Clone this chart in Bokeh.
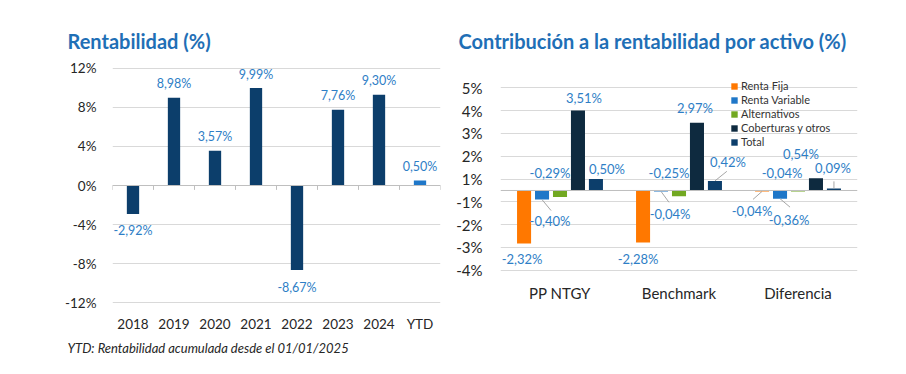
from bokeh.plotting import figure
from bokeh.models import Range1d, FixedTicker, Span, Title, Legend, LegendItem
from bokeh.layouts import row
from bokeh.embed import file_html
from bokeh.resources import INLINE
from bokeh.core.properties import value

# ---------------- data ----------------
years = ["2018", "2019", "2020", "2021", "2022", "2023", "2024", "YTD"]
returns = [-2.92, 8.98, 3.57, 9.99, -8.67, 7.76, 9.30, 0.50]
left_ticks = [-12, -8, -4, 0, 4, 8, 12]

groups = ["PP NTGY", "Benchmark", "Diferencia"]
series = ["Renta Fija", "Renta Variable", "Alternativos", "Coberturas y otros", "Total"]
renta_fija = [-2.32, -2.28, -0.04]
renta_variable = [-0.40, -0.04, -0.36]
alternativos = [-0.29, -0.25, -0.04]
coberturas = [3.51, 2.97, 0.54]
total = [0.50, 0.42, 0.09]
right_ticks = [-3.5, -2.5, -1.5, -0.5, 0.5, 1.5, 2.5, 3.5, 4.5]
right_tick_labels = ["-4%", "-3%", "-2%", "-1%", "1%", "2%", "3%", "4%", "5%"]

# ---------------- style ----------------
FONT = "Lato"
TITLE_C = "#1f6fb6"
LABEL_C = "#2e7ec6"
TEXT_C = "#262626"
GRID_C = "#d9d9d9"
ZERO_C = "#bfbfbf"
NAVY = "#0c3e6b"
YTD_C = "#1f77c8"
series_colors = ["#ff7800", "#1f77c8", "#72a822", "#0e2a3f", "#0c3e6b"]

# label offsets (data units) per series x group
label_dx = [[-0.017, -0.042, -0.084],
            [0.067, 0.076, 0.076],
            [-0.084, -0.084, -0.134],
            [0.05, -0.017, -0.126],
            [0.092, 0.109, -0.008]]
label_dy = [[-0.70, -0.72, -0.88],
            [-0.92, -1.01, -0.92],
            [1.04, 1.0, 0.79],
            [0.53, 0.66, 1.08],
            [0.46, 0.81, 0.88]]
leaders = [[None, None, (-0.076, -0.35)],
           [(0.076, -0.48), (0.067, -0.48), (0.084, -0.37)],
           [None, None, None],
           [None, None, None],
           [None, (0.10, 0.42), (0.0, 0.31)]]

H = 372
TOP = 64
BOTTOM = 66


def fmt(v):
    return f"{v:.2f}".replace(".", ",") + "%"


def style_axes(p, size_x, size_y, standoff_x, standoff_y):
    for ax in (p.xaxis[0], p.yaxis[0]):
        ax.axis_line_color = None
        ax.major_tick_line_color = None
        ax.minor_tick_line_color = None
        ax.major_label_text_font = FONT
        ax.major_label_text_color = TEXT_C
    p.xaxis.major_label_text_font_size = size_x
    p.yaxis.major_label_text_font_size = size_y
    p.xaxis.major_label_standoff = standoff_x
    p.yaxis.major_label_standoff = standoff_y
    p.xgrid.grid_line_color = None
    p.ygrid.grid_line_color = GRID_C
    p.outline_line_color = None
    p.background_fill_color = "white"


def style_title(p, text, offset):
    p.title.text = text
    p.title.text_font = FONT
    p.title.text_font_size = "20px"
    p.title.text_font_style = "bold"
    p.title.text_color = TITLE_C
    p.title.align = "left"
    p.title.offset = offset
    p.title.standoff = 23


# ---------------- left chart ----------------
p1 = figure(width=448, height=H, x_range=Range1d(-0.5, len(years) - 0.5),
            y_range=Range1d(-12.4, 12.4), output_backend="svg", toolbar_location=None,
            min_border_left=112, min_border_right=8, min_border_top=TOP, min_border_bottom=BOTTOM)
idx = list(range(len(years)))
p1.xaxis.ticker = FixedTicker(ticks=idx)
p1.xaxis.major_label_overrides = {i: y for i, y in enumerate(years)}
p1.yaxis.ticker = FixedTicker(ticks=left_ticks)
p1.yaxis.major_label_overrides = {t: f"{t}%" for t in left_ticks}
style_axes(p1, "13.5px", "13.5px", 3, 10)

p1.add_layout(Span(location=0, dimension="width", line_color=ZERO_C, line_width=1))
bounds = [i - 0.5 for i in range(len(years) + 1)]
p1.segment(x0=bounds, y0=[0] * len(bounds), x1=bounds, y1=[-0.45] * len(bounds),
           line_color=ZERO_C, line_width=1)
colors1 = [YTD_C if y == "YTD" else NAVY for y in years]
p1.vbar(x=idx, top=returns, width=0.3, fill_color=colors1, line_color=None)
p1.text(x=idx, y=returns, text=[fmt(v) for v in returns],
        y_offset=[-14 if v >= 0 else 17 for v in returns],
        text_align="center", text_baseline="middle", text_font=value(FONT),
        text_font_size="12.5px", text_color=LABEL_C)

style_title(p1, "Rentabilidad (%)", -45)
p1.add_layout(Title(text="YTD: Rentabilidad acumulada desde el 01/01/2025", text_font=FONT,
                    text_font_style="italic", text_font_size="13px", text_color=TEXT_C,
                    align="left", offset=-45, standoff=6), "below")

# ---------------- right chart ----------------
p2 = figure(width=450, height=H, x_range=Range1d(-0.5, len(groups) - 0.5),
            y_range=Range1d(-5.088, 5.526), output_backend="svg", toolbar_location=None,
            min_border_left=52, min_border_right=41, min_border_top=TOP, min_border_bottom=BOTTOM)
gidx = list(range(len(groups)))
p2.xaxis.ticker = FixedTicker(ticks=gidx)
p2.xaxis.major_label_overrides = {i: g for i, g in enumerate(groups)}
p2.yaxis.ticker = FixedTicker(ticks=right_ticks)
p2.yaxis.major_label_overrides = {t: l for t, l in zip(right_ticks, right_tick_labels)}
style_axes(p2, "15px", "15px", -29, 12)
p2.add_layout(Span(location=0, dimension="width", line_color=ZERO_C, line_width=1))

pitch = 0.151
bw = 0.118
all_vals = [renta_fija, renta_variable, alternativos, coberturas, total]
items = []
for k, (name, vals) in enumerate(zip(series, all_vals)):
    xs = [g + (k - 2) * pitch for g in gidx]
    r = p2.vbar(x=xs, top=vals, width=bw, fill_color=series_colors[k], line_color=None)
    items.append(LegendItem(label=name, renderers=[r]))
    lx = [x + d for x, d in zip(xs, label_dx[k])]
    ly = [v + d for v, d in zip(vals, label_dy[k])]
    p2.text(x=lx, y=ly, text=[fmt(v) for v in vals], text_align="center",
            text_baseline="middle", text_font=value(FONT), text_font_size="13px",
            text_color=LABEL_C)
    for x, v, ld in zip(xs, vals, leaders[k]):
        if ld is not None:
            p2.segment(x0=[x], y0=[v], x1=[x + ld[0]], y1=[v + ld[1]],
                       line_color="#a6a6a6", line_width=1)

legend = Legend(items=items, location=(230, 158), glyph_width=8, glyph_height=8,
                label_standoff=3, spacing=1, padding=0, margin=0,
                background_fill_alpha=0, border_line_color=None,
                label_text_font=FONT, label_text_font_size="11px", label_height=12,
                label_text_color="#333333")
p2.add_layout(legend)

style_title(p2, "Contribución a la rentabilidad por activo (%)", -42)

layout = row(p1, p2)
open("out.html", "w").write(file_html(layout, INLINE))
